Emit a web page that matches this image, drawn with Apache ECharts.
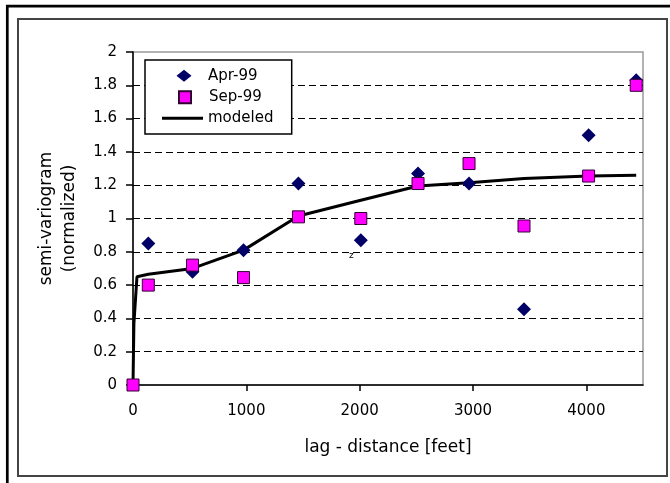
<!DOCTYPE html>
<html>
<head>
<meta charset="utf-8">
<script src="https://cdn.jsdelivr.net/npm/echarts@6.0.0/dist/echarts.min.js"></script>
<style>
html, body { margin: 0; padding: 0; background: #fff; }
#chart { width: 670px; height: 483px; }
</style>
</head>
<body>
<div id="chart"></div>
<script>
// lag distances (feet) and normalized semi-variogram values
var lags = [0, 135, 525, 975, 1460, 2010, 2515, 2965, 3450, 4020, 4440]
var apr99 = [null, 0.85, 0.68, 0.81, 1.21, 0.87, 1.27, 1.21, 0.455, 1.50, 1.83]
var sep99 = [0, 0.60, 0.72, 0.645, 1.01, 1.00, 1.21, 1.33, 0.955, 1.255, 1.80]
var modelLags = [0, 8, 35, 135, 525, 975, 1460, 2010, 2515, 2965, 3450, 4020, 4440]
var modeled = [0, 0.37, 0.65, 0.665, 0.70, 0.81, 1.015, 1.11, 1.195, 1.215, 1.24, 1.255, 1.26]
var xTicks = [0, 1000, 2000, 3000, 4000]

var font = 'DejaVu Sans'

function pairs(xs, ys) {
    var out = []
    for (var i = 0; i < xs.length; i++) {
        if (ys[i] !== null) out.push([xs[i], ys[i]])
    }
    return out
}

var legendText = { fontFamily: font, fontSize: 15, color: '#000', lineHeight: 16 }

var myChart = echarts.init(document.getElementById('chart'))
var options = {
    animation: false,
    backgroundColor: '#fff',
    grid: {
        left: 133, top: 52, right: 27, bottom: 98,
        show: true, borderColor: '#999', borderWidth: 1.5, backgroundColor: 'transparent'
    },
    legend: [
        {
            data: [{ name: 'Apr-99', icon: 'diamond' }],
            left: 176.5, top: 67.7,
            itemWidth: 15, itemHeight: 12,
            padding: 0,
            selectedMode: false,
            textStyle: Object.assign({ padding: [0, 0, 0, 11.5] }, legendText)
        },
        {
            data: [{ name: 'Sep-99', icon: 'rect' }],
            left: 178, top: 89.3,
            itemWidth: 12, itemHeight: 12,
            padding: 0,
            selectedMode: false,
            textStyle: Object.assign({ padding: [0, 0, 0, 13] }, legendText)
        },
        {
            data: [{ name: 'modeled', icon: 'rect' }],
            left: 162, top: 110.3,
            itemWidth: 41, itemHeight: 3,
            padding: 0,
            selectedMode: false,
            itemStyle: { color: '#000', borderWidth: 0 },
            textStyle: legendText
        }
    ],
    xAxis: {
        type: 'value',
        min: 0, max: 4500, interval: 1000,
        name: 'lag - distance [feet]',
        nameLocation: 'middle',
        nameGap: 54,
        nameTextStyle: { fontFamily: font, fontSize: 17, color: '#000' },
        axisLine: { show: true, onZero: false, lineStyle: { color: '#000', width: 1.5 } },
        axisTick: { show: true, length: 6, customValues: xTicks, lineStyle: { color: '#000', width: 1.5 } },
        axisLabel: {
            customValues: xTicks, color: '#000', fontFamily: font, fontSize: 15, margin: 19,
            formatter: function (v) { return String(v) }
        },
        splitLine: { show: false }
    },
    yAxis: {
        type: 'value',
        min: 0, max: 2, interval: 0.2,
        name: 'semi-variogram\n(normalized)',
        nameLocation: 'middle',
        nameRotate: 90,
        nameGap: 52,
        nameTextStyle: { fontFamily: font, fontSize: 17, color: '#000', lineHeight: 23 },
        axisLine: { show: true, lineStyle: { color: '#000', width: 1.5 } },
        axisTick: { show: true, length: 7, lineStyle: { color: '#000', width: 1.5 } },
        axisLabel: { color: '#000', fontFamily: font, fontSize: 15, margin: 16 },
        splitLine: {
            show: true, showMinLine: false, showMaxLine: false,
            lineStyle: { color: '#000', width: 1, type: [7, 4] }
        }
    },
    graphic: {
        elements: [
            // outer frames
            { type: 'rect', z: 10, shape: { x: 7.3, y: 6.2, width: 720, height: 520 }, style: { fill: 'none', stroke: '#000', lineWidth: 2.7 } },
            { type: 'rect', z: 10, shape: { x: 18, y: 19, width: 649, height: 457 }, style: { fill: 'none', stroke: '#444', lineWidth: 2 } },
            // legend box
            { type: 'rect', z: 3, shape: { x: 145, y: 60, width: 146.7, height: 74 }, style: { fill: '#fff', stroke: '#000', lineWidth: 1.5 } },
            // stray glyph in the original
            { type: 'text', z: 3, x: 349, y: 251, style: { text: 'z', fontFamily: font, fontSize: 9, fill: '#000' } }
        ]
    },
    series: [
        {
            name: 'modeled',
            type: 'line',
            data: pairs(modelLags, modeled),
            symbol: 'none',
            z: 2,
            color: '#000',
            lineStyle: { color: '#000', width: 3 }
        },
        {
            name: 'Apr-99',
            type: 'scatter',
            data: pairs(lags, apr99),
            symbol: 'diamond',
            symbolSize: 14,
            z: 3,
            itemStyle: { color: '#000066', opacity: 1 }
        },
        {
            name: 'Sep-99',
            type: 'scatter',
            data: pairs(lags, sep99),
            symbol: 'rect',
            symbolSize: 12,
            z: 4,
            itemStyle: { color: '#ff00ff', borderColor: '#330033', borderWidth: 1, opacity: 1 }
        }
    ]
}
myChart.setOption(options)
</script>
</body>
</html>
